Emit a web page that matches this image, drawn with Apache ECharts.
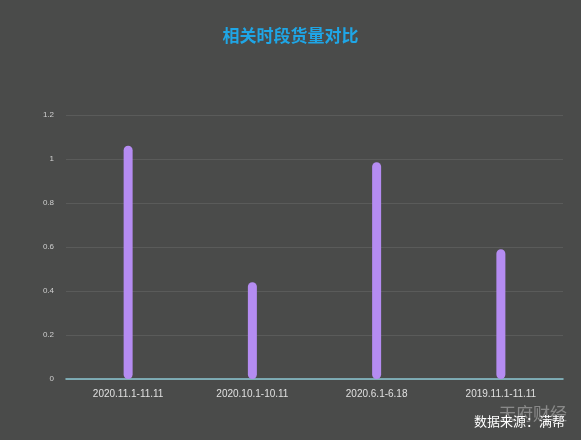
<!DOCTYPE html>
<html>
<head>
<meta charset="utf-8">
<script src="https://cdn.jsdelivr.net/npm/echarts@6/dist/echarts.min.js"></script>
<style>
html,body{margin:0;padding:0;background:#4a4b4a;}
#main{width:581px;height:440px;}
</style>
</head>
<body>
<div id="main"></div>
<script>
const categories = ["2020.11.1-11.11", "2020.10.1-10.11", "2020.6.1-6.18", "2019.11.1-11.11"]
const values = [1.06, 0.44, 0.985, 0.59]
const yTicks = [0, 0.2, 0.4, 0.6, 0.8, 1, 1.2]

const chart = echarts.init(document.getElementById("main"))
chart.setOption({
	backgroundColor: "#4a4b4a",
	title: {
		text: "相关时段货量对比",
		left: "center",
		top: 22,
		textStyle: {color: "#1fa6e6", fontSize: 17, fontWeight: "bold", fontFamily: "Noto Sans CJK SC"}
	},
	grid: {left: 66, right: 18, top: 115, bottom: 61},
	xAxis: {
		type: "category",
		data: categories,
		axisLine: {lineStyle: {color: "#8cc8d4", width: 1.5}},
		axisTick: {show: false},
		axisLabel: {color: "#e0e0e0", fontSize: 10, margin: 10}
	},
	yAxis: {
		type: "value",
		min: 0,
		max: 1.2,
		interval: 0.2,
		axisLine: {show: false},
		axisTick: {show: false},
		axisLabel: {color: "#d0d0d0", fontSize: 8, margin: 12,
			formatter: v => yTicks.includes(+v.toFixed(1)) ? String(+v.toFixed(1)) : ""},
		splitLine: {lineStyle: {color: "#5a5b5a"}}
	},
	series: [{
		type: "bar",
		data: values,
		barWidth: 9,
		itemStyle: {color: "#b58cf2", borderRadius: 5}
	}],
	graphic: [
		{type: "text", right: 14, bottom: 18, style: {text: "天府财经", fill: "rgba(255,255,255,0.35)", font: "17px 'Noto Sans CJK SC'"}},
		{type: "text", right: 16, bottom: 12, style: {text: "数据来源：满帮", fill: "#ffffff", font: "13px 'Noto Sans CJK SC'"}}
	]
})
</script>
</body>
</html>
